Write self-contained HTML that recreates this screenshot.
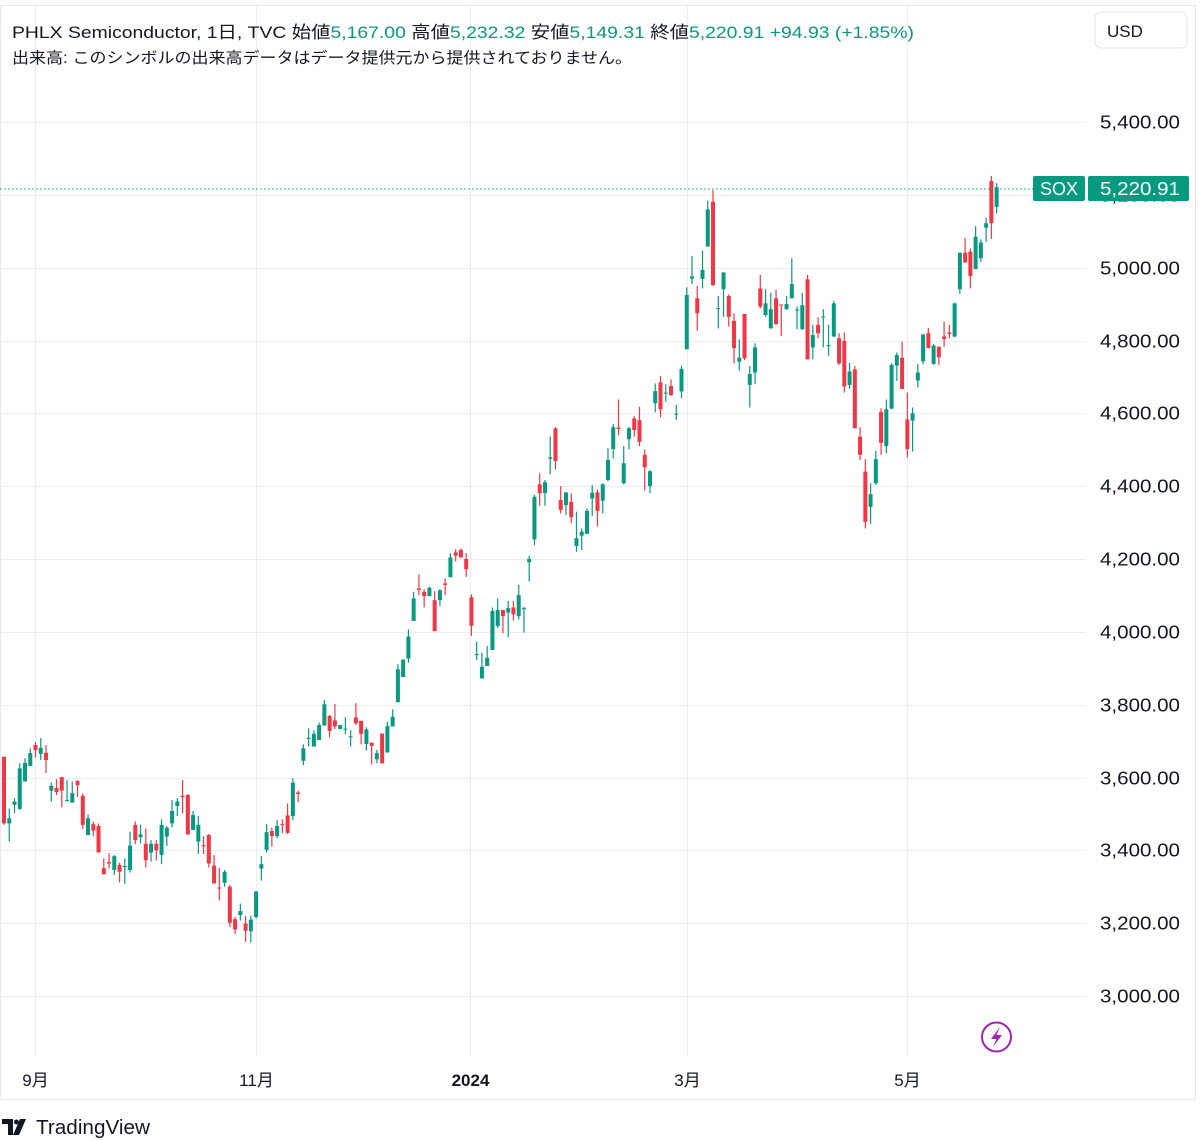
<!DOCTYPE html>
<html><head><meta charset="utf-8">
<style>
html,body{margin:0;padding:0;background:#fff;}
svg{display:block;font-family:"Liberation Sans","Noto Sans CJK JP",sans-serif;}
</style></head>
<body>
<svg id="chart" width="1200" height="1141" viewBox="0 0 1200 1141" xmlns="http://www.w3.org/2000/svg">
<rect x="0.5" y="5.5" width="1195" height="1094" fill="#fff" stroke="#e6e8ee"/>
<g id="grid"></g>
<g id="candles"></g>
<g id="yaxis"></g>
<g id="xaxis"></g>
<line x1="0" y1="189" x2="1033" y2="189" stroke="#089981" stroke-width="1" stroke-dasharray="1.5,2.5"/>
<g>
<rect x="1033" y="176" width="52" height="25" rx="2" fill="#089981"/>
<text x="1059" y="195" fill="#fff" font-size="18" text-anchor="middle">SOX</text>
<rect x="1088" y="176" width="101" height="25" rx="2" fill="#089981"/>
<text x="1100" y="195" fill="#fff" font-size="18" textLength="80" lengthAdjust="spacingAndGlyphs">5,220.91</text>
</g>
<g>
<text x="12" y="38" font-size="17" fill="#131722" textLength="902" lengthAdjust="spacingAndGlyphs">PHLX Semiconductor, 1日, TVC  始値<tspan fill="#089981">5,167.00</tspan>  高値<tspan fill="#089981">5,232.32</tspan>  安値<tspan fill="#089981">5,149.31</tspan>  終値<tspan fill="#089981">5,220.91</tspan>  <tspan fill="#089981">+94.93 (+1.85%)</tspan></text>
<text x="12" y="63" font-size="15.5" fill="#131722" textLength="620" lengthAdjust="spacingAndGlyphs">出来高: このシンボルの出来高データはデータ提供元から提供されておりません。</text>
</g>
<g>
<rect x="1095" y="12" width="92" height="36" rx="6" fill="#fff" stroke="#e0e3eb"/>
<text x="1107" y="37" font-size="17" fill="#131722">USD</text>
</g>
<g>
<circle cx="996.5" cy="1037" r="14.5" fill="none" stroke="#9c27b0" stroke-width="2"/>
<path d="M1000 1027 L991 1039 L996.5 1039 L993 1047 L1002 1035 L996.5 1035 Z" fill="#9c27b0"/>
</g>
<g>
<path d="M2 1119 h11 v16 h-5 v-11 h-6z" fill="#131722"/>
<circle cx="16.5" cy="1122" r="2.5" fill="#131722"/>
<path d="M20 1119 h6 l-7 16 h-6z" fill="#131722"/>
<text x="36" y="1134" font-size="20" fill="#131722" textLength="114" lengthAdjust="spacingAndGlyphs">TradingView</text>
</g>
</svg>
<script>
const opens=[3657,3474,3525,3514,3589,3632,3689,3665,3668,3564,3571,3601,3536,3531,3590,3550,3442,3472,3467,3351,3368,3346,3360,3354,3346,3470,3436,3418,3394,3418,3387,3438,3474,3522,3550,3552,3456,3424,3414,3442,3358,3298,3311,3300,3211,3222,3199,3178,3217,3350,3401,
3453,3439,3472,3496,3494,3559,3646,3706,3685,3703,3743,3769,3757,3733,3732,3711,3765,3756,3692,3696,3650,3721,3669,3740,3807,3876,3927,4030,4119,4110,4098,4087,4087,4133,4150,4218,4225,4200,4095,3936,3872,3906,3950,4016,4060,4053,4067,4043,4063,4191,
4254,4405,4381,4475,4559,4362,4348,4357,4236,4264,4269,4366,4383,4360,4417,4502,4561,4408,4529,4586,4581,4486,4400,4628,4685,4655,4675,4597,4660,4776,4970,4916,4969,5058,5181,4887,4941,4922,4854,4742,4873,4678,4712,
4943,4870,4834,4916,4899,4886,4916,4883,4831,4968,4781,4843,4864,4785,4811,4806,4799,4678,4721,4536,4440,4343,4408,4604,4510,4613,4731,4753,4583,4580,4690,4743,4820,4736,4783,4811,4822,4811,4941,5041,5044,4996,5026,5110,5238,5167];
const highs=[3657,3515,3543,3639,3653,3680,3698,3708,3689,3586,3595,3602,3593,3589,3593,3556,3499,3479,3474,3378,3392,3387,3366,3378,3451,3479,3470,3460,3428,3428,3485,3467,3538,3543,3593,3554,3508,3494,3439,3445,3387,3352,3346,3305,3218,3254,3220,3220,3288,3384,3472,
3462,3483,3485,3529,3598,3564,3691,3735,3729,3751,3813,3772,3802,3744,3765,3730,3804,3755,3738,3696,3676,3721,3753,3787,3911,3924,4007,4110,4158,4117,4124,4112,4117,4147,4216,4227,4229,4216,4103,3973,3943,3961,4067,4092,4060,4085,4085,4129,4069,4209,
4376,4435,4417,4536,4562,4400,4383,4380,4330,4284,4339,4403,4391,4408,4504,4571,4638,4510,4563,4593,4618,4501,4444,4682,4703,4680,4693,4623,4731,4946,5032,4950,5047,5184,5213,4922,4987,4927,4875,4803,4852,4730,4792,
4980,4941,4931,4939,4899,4922,5026,4893,4931,4980,4843,4864,4886,4843,4909,4820,4822,4739,4730,4562,4474,4408,4497,4614,4638,4737,4767,4797,4657,4616,4735,4817,4835,4790,4783,4852,4843,4904,5041,5081,5053,5114,5078,5137,5252,5232];
const lows=[3470,3424,3502,3511,3589,3632,3655,3648,3613,3534,3552,3518,3534,3531,3547,3459,3442,3439,3394,3334,3350,3332,3312,3308,3339,3417,3419,3353,3369,3372,3362,3412,3463,3494,3502,3442,3456,3390,3390,3353,3309,3262,3300,3189,3170,3207,3149,3147,3213,3317,3394,
3410,3433,3447,3445,3483,3532,3634,3685,3685,3703,3742,3710,3733,3733,3719,3685,3744,3691,3674,3636,3639,3639,3668,3740,3806,3877,3915,4030,4101,4067,4098,4002,4071,4101,4150,4193,4204,4151,3989,3923,3872,3906,3950,4011,3996,3985,4031,4034,3998,4138,
4238,4346,4346,4433,4446,4325,4321,4298,4220,4225,4269,4318,4289,4325,4414,4476,4540,4405,4501,4536,4510,4388,4380,4603,4589,4632,4648,4582,4641,4776,4955,4827,4943,5058,4950,4833,4865,4838,4737,4717,4746,4616,4680,
4888,4865,4831,4843,4812,4884,4916,4831,4829,4748,4748,4806,4781,4758,4809,4733,4657,4667,4559,4472,4284,4296,4403,4486,4490,4611,4689,4667,4479,4495,4671,4735,4779,4733,4733,4783,4806,4809,4928,5014,4943,4996,5016,5071,5079,5149];
const closes=[3474,3488,3534,3625,3640,3667,3675,3681,3648,3577,3560,3564,3538,3557,3579,3470,3488,3454,3394,3334,3364,3384,3341,3357,3413,3428,3444,3373,3418,3400,3470,3462,3508,3534,3546,3444,3497,3470,3411,3364,3309,3295,3341,3201,3183,3233,3179,3210,3287,3362,3450,
3439,3467,3469,3448,3586,3555,3680,3709,3720,3744,3801,3728,3740,3744,3734,3713,3749,3720,3732,3687,3667,3639,3741,3767,3897,3924,3987,4092,4115,4098,4121,4002,4114,4129,4204,4209,4204,4172,4017,3939,3904,3929,4057,4060,4043,4065,4048,4101,4065,4200,
4371,4381,4411,4479,4469,4335,4383,4315,4257,4275,4332,4382,4332,4405,4472,4562,4557,4463,4559,4554,4522,4452,4441,4661,4611,4657,4650,4599,4722,4925,4976,4875,4994,5160,4952,4889,4987,4865,4779,4753,4751,4708,4781,
4893,4902,4886,4845,4897,4900,4955,4885,4897,4748,4815,4820,4866,4787,4902,4737,4674,4715,4559,4486,4302,4378,4474,4519,4611,4733,4760,4667,4502,4600,4712,4817,4779,4786,4754,4804,4818,4902,5041,5014,4977,5085,5069,5122,5122,5220.91];
const yTicks=[3000,3200,3400,3600,3800,4000,4200,4400,4600,4800,5000,5200,5400];
const xLabels=["9月","11月","2024","3月","5月"];
const xLabelBars=[5.9,48,88.8,130,172];

const NS="http://www.w3.org/2000/svg";
function yScale(v){return 122+(5400-v)*0.36417;}
function xScale(i){return 4+i*5.252;}
function mk(tag,attrs,parent){const e=document.createElementNS(NS,tag);for(const k in attrs)e.setAttribute(k,attrs[k]);parent.appendChild(e);return e;}
const grid=document.getElementById('grid'),cg=document.getElementById('candles'),ya=document.getElementById('yaxis'),xa=document.getElementById('xaxis');
yTicks.forEach(v=>{
  const y=Math.round(yScale(v))+0.5;
  const l=mk('line',{x1:0,x2:1086,y1:y,y2:y,stroke:'#ebedf1','stroke-width':1},grid);
  
  
  const t=mk('text',{x:1100,y:y+6,'font-size':18,fill:'#131722',textLength:80,lengthAdjust:'spacingAndGlyphs'},ya);
  t.textContent=v.toLocaleString('en-US',{minimumFractionDigits:2});
  
  
});
xLabels.forEach((s,k)=>{
  const x=Math.round(xScale(xLabelBars[k]))+0.5;
  const l=mk('line',{x1:x,x2:x,y1:6,y2:1056,stroke:'#ebedf1','stroke-width':1},grid);
  
  
  const t=mk('text',{x:x,y:1086,'font-size':17,fill:'#131722','text-anchor':'middle','font-weight':s==='2024'?'bold':'normal'},xa);
  t.textContent=s;
  
  
});
closes.forEach((c,i)=>{
  const o=opens[i],h=highs[i],l=lows[i];
  const col=c>=o?'#089981':'#F23645';
  const x=xScale(i);
  const g=mk('g',{},cg);
  
  
  mk('line',{x1:x,x2:x,y1:yScale(h),y2:yScale(l),stroke:col,'stroke-width':1.2},g);
  const top=yScale(Math.max(o,c)),bot=yScale(Math.min(o,c));
  mk('rect',{x:x-2,y:top,width:4,height:Math.max(1,bot-top),fill:col},g);
});
</script>
</body></html>
